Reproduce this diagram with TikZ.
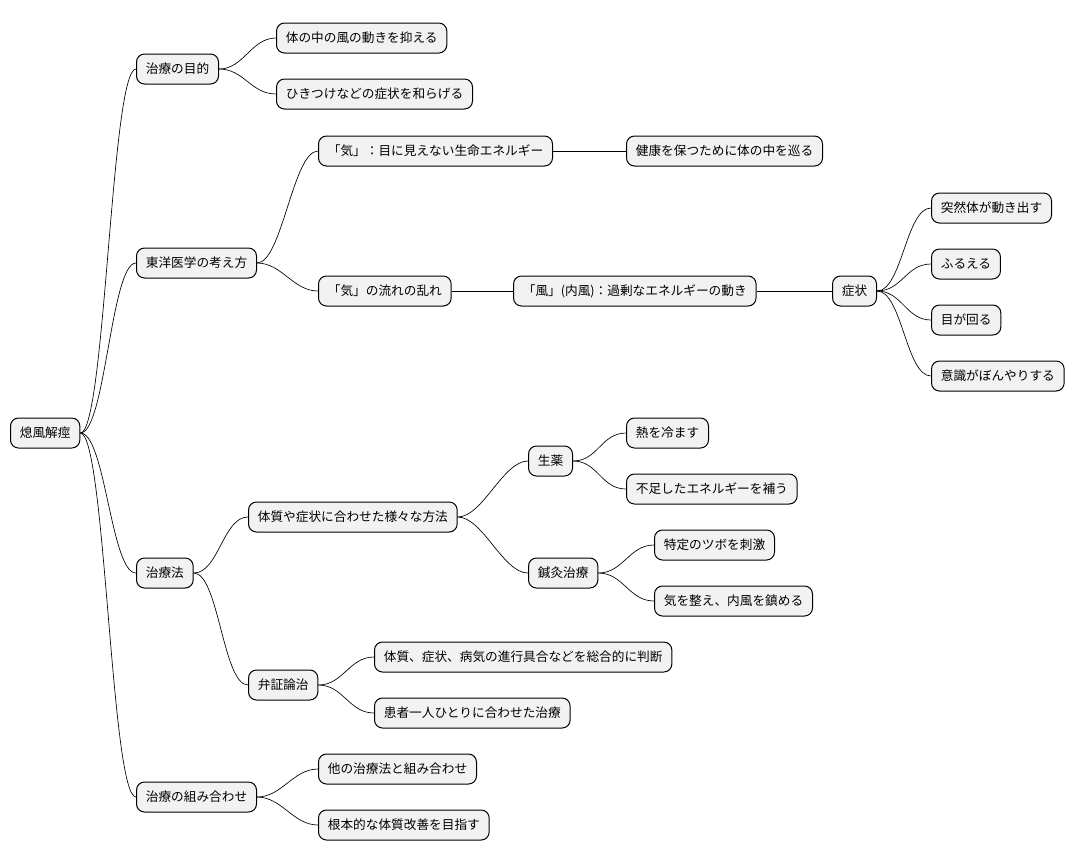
\documentclass[tikz,border=0pt]{standalone}
\usepackage{fontspec}
\setmainfont{Noto Sans CJK JP}
\begin{document}
\begin{tikzpicture}[x=0.75pt,y=-0.75pt,
    topic/.style={draw=black,fill=black!5,rounded corners=6pt,line width=0.75pt,
      minimum height=22.5pt,inner xsep=7pt,anchor=west,font=\fontsize{9.5}{11}\selectfont},
    branch/.style={line width=0.5pt}]
  \useasboundingbox (0,0) rectangle (1087,865);
  \node[topic] (root) at (10,433) {熄風解痙};
  \node[topic] (goal) at (136,69) {治療の目的};
  \node[topic] (goal1) at (276,38) {体の中の風の動きを抑える};
  \node[topic] (goal2) at (276,94) {ひきつけなどの症状を和らげる};
  \node[topic] (east) at (136,263) {東洋医学の考え方};
  \node[topic] (ki) at (318,151) {「気」：目に見えない生命エネルギー};
  \node[topic] (kiflow) at (626,151) {健康を保つために体の中を巡る};
  \node[topic] (kidis) at (318,291) {「気」の流れの乱れ};
  \node[topic] (wind) at (513,291) {「風」(内風)：過剰なエネルギーの動き};
  \node[topic] (sym) at (832,291) {症状};
  \node[topic] (sym1) at (931,208) {突然体が動き出す};
  \node[topic] (sym2) at (931,264) {ふるえる};
  \node[topic] (sym3) at (931,320) {目が回る};
  \node[topic] (sym4) at (931,376) {意識がぼんやりする};
  \node[topic] (cure) at (136,573) {治療法};
  \node[topic] (ways) at (248,517) {体質や症状に合わせた様々な方法};
  \node[topic] (herb) at (528,461) {生薬};
  \node[topic] (herb1) at (626,433) {熱を冷ます};
  \node[topic] (herb2) at (626,489) {不足したエネルギーを補う};
  \node[topic] (acu) at (528,573) {鍼灸治療};
  \node[topic] (acu1) at (654,545) {特定のツボを刺激};
  \node[topic] (acu2) at (654,601) {気を整え、内風を鎮める};
  \node[topic] (diag) at (248,685) {弁証論治};
  \node[topic] (diag1) at (374,657) {体質、症状、病気の進行具合などを総合的に判断};
  \node[topic] (diag2) at (374,713) {患者一人ひとりに合わせた治療};
  \node[topic] (mix) at (136,797) {治療の組み合わせ};
  \node[topic] (mix1) at (318,769) {他の治療法と組み合わせ};
  \node[topic] (mix2) at (318,825) {根本的な体質改善を目指す};

  \foreach \p/\c in {root/goal,root/east,root/cure,root/mix,goal/goal1,goal/goal2,
      east/ki,east/kidis,sym/sym1,sym/sym2,sym/sym3,sym/sym4,cure/ways,cure/diag,
      ways/herb,ways/acu,herb/herb1,herb/herb2,acu/acu1,acu/acu2,
      diag/diag1,diag/diag2,mix/mix1,mix/mix2}
    \draw[branch] (\p.east) .. controls +(25,0) and +(-25,0) .. (\c.west);
  \foreach \p/\c in {ki/kiflow,kidis/wind,wind/sym}
    \draw[branch] (\p) -- (\c);
\end{tikzpicture}
\end{document}
